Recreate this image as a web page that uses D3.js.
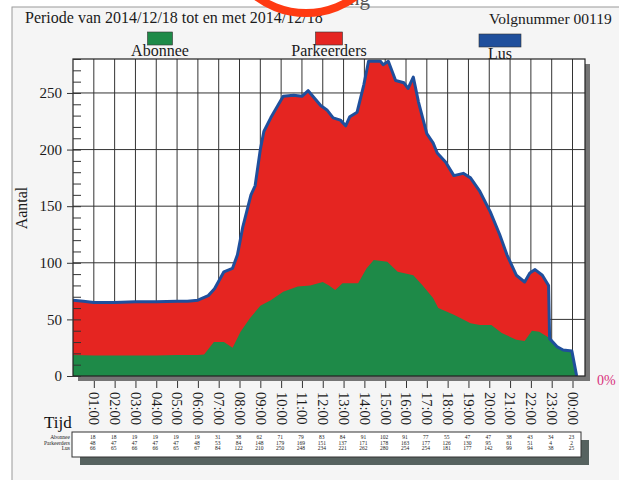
<!DOCTYPE html>
<html>
<head>
<meta charset="utf-8">
<script src="https://cdn.jsdelivr.net/npm/d3@7"></script>
<style>
  body { margin: 0; background: #fff; }
  text { font-family: "Liberation Serif", "Times New Roman", serif; fill: #1a1a1a; }
</style>
</head>
<body>
<div id="chart"></div>
<script>
// Hourly table under the chart
var tableHours = ["01:00", "02:00", "03:00", "04:00", "05:00", "06:00", "07:00", "08:00",
  "09:00", "10:00", "11:00", "12:00", "13:00", "14:00", "15:00", "16:00",
  "17:00", "18:00", "19:00", "20:00", "21:00", "22:00", "23:00", "00:00"];
var tableAbonnee = [18, 18, 19, 19, 19, 19, 31, 38, 62, 71, 79, 83, 84, 91, 102, 91, 77, 55, 47, 47, 38, 43, 34, 23];
var tableParkeerders = [48, 47, 47, 47, 47, 48, 53, 84, 148, 179, 169, 151, 137, 171, 178, 163, 177, 126, 130, 95, 61, 51, 4, 2];
var tableLus = [66, 65, 66, 66, 65, 67, 84, 122, 210, 250, 248, 234, 221, 262, 280, 254, 254, 181, 177, 142, 99, 94, 38, 25];
var rowNames = ["Abonnee", "Parkeerders", "Lus"];

// Curves (hour of day -> count)
var lusHours = [0, 0.5, 1, 1.5, 2, 3, 4, 5, 5.5, 6, 6.5, 6.8, 7.25, 7.66, 7.9, 8.15, 8.55, 8.75, 9, 9.17,
  9.5, 10.1, 10.6, 11, 11.3, 11.9, 12.2, 12.5, 12.85, 13.1, 13.3, 13.65, 13.97, 14.2, 14.77,
  14.9, 15.15, 15.5, 15.9, 16.1, 16.35, 16.6, 17, 17.3, 17.5, 17.9, 18.3, 18.75, 19.1, 19.55,
  20.05, 20.5, 20.85, 21.3, 21.7, 21.95, 22.2, 22.55, 22.85, 22.9, 23.25, 23.55, 23.97, 24.2];
var lusValues = [67, 66, 65, 65, 65, 65.5, 65.5, 66, 66, 67, 71, 77, 92, 95, 107, 131, 160, 168, 200, 216,
  228, 247, 248, 247, 252, 239, 235, 228, 226, 221, 229, 233, 257, 278, 278,
  275, 278, 261, 259, 254, 264, 242, 214, 206, 197, 189, 177, 179, 175, 163,
  145, 125, 107, 89, 83, 91, 94, 89, 80, 33, 26, 23, 22, 0];

var abonneeHours = [0, 1, 2, 3, 4, 5, 6, 6.3, 6.77, 7.25, 7.67, 8.05, 8.5, 9, 9.5,
  10.1, 10.8, 11.4, 12, 12.3, 12.6, 12.95, 13.7, 14.1, 14.45, 15.1, 15.6, 16.35, 16.8, 17.3,
  17.55, 18.3, 19.1, 19.55, 20.1, 20.6, 21.3, 21.7, 22.05, 22.4, 22.85, 23.25, 23.75, 23.97, 24.15];
var abonneeValues = [18.5, 18, 18, 18, 18, 18.5, 18.5, 19, 30, 30, 25, 39, 51, 62, 67,
  74.5, 79, 80, 83, 80, 76, 82, 82, 95, 102.5, 101, 92, 89, 80, 69,
  60, 54, 46.5, 45, 45, 38, 32, 31, 40, 39, 34, 25, 21.5, 21, 0];

var legendNames = ["Abonnee", "Parkeerders", "Lus"];
var yMajor = [0, 50, 100, 150, 200, 250];

var svgWidth = 619;
var svgHeight = 480;
var plot = { left: 73, right: 585, top: 59, bottom: 376 };
var colors = { Abonnee: "#1e8a48", Parkeerders: "#e52521", Lus: "#1f4f9c" };

var svg = d3.select("#chart")
  .append("svg")
  .attr("width", svgWidth)
  .attr("height", svgHeight);

// scanned page background
svg.append("rect")
  .attr("x", 12).attr("y", 7)
  .attr("width", svgWidth).attr("height", svgHeight)
  .attr("fill", "#f5f5f5")
  .attr("stroke", "#9a9a9a");

// half hidden title
svg.append("text")
  .attr("x", 370).attr("y", 5)
  .attr("text-anchor", "end")
  .style("font-size", "21px")
  .style("fill", "#555")
  .text("Bezetting");

svg.append("text")
  .attr("x", 25).attr("y", 23)
  .style("font-size", "16px")
  .text("Periode van 2014/12/18 tot en met 2014/12/18");

// red marker circle drawn over the header
svg.append("circle")
  .attr("cx", 306).attr("cy", -70).attr("r", 83)
  .attr("fill", "#fff")
  .attr("stroke", "#ff3a12")
  .attr("stroke-width", 8);

svg.append("text")
  .attr("x", 489).attr("y", 24)
  .style("font-size", "15.5px")
  .text("Volgnummer 00119");

// legend
var legendX = { Abonnee: 160, Parkeerders: 329, Lus: 500 };
var legendW = { Abonnee: 25, Parkeerders: 27, Lus: 42 };
legendNames.forEach(function(name, i) {
  svg.append("rect")
    .attr("x", legendX[name] - legendW[name] / 2)
    .attr("y", i == 2 ? 34 : 32)
    .attr("width", legendW[name])
    .attr("height", 13)
    .attr("fill", colors[name])
    .attr("stroke", "#333")
    .attr("stroke-width", 0.6);
  svg.append("text")
    .attr("x", legendX[name])
    .attr("y", i == 2 ? 59 : 56)
    .attr("text-anchor", "middle")
    .style("font-size", "16px")
    .text(name);
});

// scales
var x = d3.scaleLinear().domain([0, 24.6]).range([plot.left, plot.right]);
var y = d3.scaleLinear().domain([0, 280]).range([plot.bottom, plot.top]);

// plot shadow + white plot area
svg.append("rect")
  .attr("x", plot.left + 5).attr("y", plot.top + 5)
  .attr("width", plot.right - plot.left).attr("height", plot.bottom - plot.top)
  .attr("fill", "#757575");
svg.append("rect")
  .attr("x", plot.left).attr("y", plot.top)
  .attr("width", plot.right - plot.left).attr("height", plot.bottom - plot.top)
  .attr("fill", "#fff");

// grid
var grid = svg.append("g").attr("stroke", "#333").attr("stroke-width", 1);
d3.range(1, 25).forEach(function(h) {
  grid.append("line")
    .attr("x1", x(h)).attr("x2", x(h))
    .attr("y1", plot.top).attr("y2", plot.bottom);
});
yMajor.slice(1).forEach(function(v) {
  grid.append("line")
    .attr("x1", plot.left).attr("x2", plot.right)
    .attr("y1", y(v)).attr("y2", y(v));
});

svg.append("clipPath").attr("id", "clip")
  .append("rect")
  .attr("x", plot.left).attr("y", plot.top)
  .attr("width", plot.right - plot.left).attr("height", plot.bottom - plot.top);

var chartGroup = svg.append("g").attr("clip-path", "url(#clip)");

var lusData = lusHours.map(function(h, i) { return { h: h, v: lusValues[i] }; });
var abonneeData = abonneeHours.map(function(h, i) { return { h: h, v: abonneeValues[i] }; });

var area = d3.area()
  .x(d => x(d.h))
  .y0(y(0))
  .y1(d => y(d.v));

// parkeerders sit on top of abonnee, so the red area reaches the Lus line
chartGroup.append("path")
  .datum(lusData)
  .attr("d", area)
  .attr("fill", colors.Parkeerders);

chartGroup.append("path")
  .datum(abonneeData)
  .attr("d", area)
  .attr("fill", colors.Abonnee);

chartGroup.append("path")
  .datum(lusData)
  .attr("d", d3.line().x(d => x(d.h)).y(d => y(d.v)))
  .attr("fill", "none")
  .attr("stroke", colors.Lus)
  .attr("stroke-width", 3)
  .attr("stroke-linejoin", "round");

// frame
svg.append("rect")
  .attr("x", plot.left).attr("y", plot.top)
  .attr("width", plot.right - plot.left).attr("height", plot.bottom - plot.top)
  .attr("fill", "none")
  .attr("stroke", "#222")
  .attr("stroke-width", 1.2);

// y axis: minor ticks inside, major ticks + labels outside
var yMinor = svg.append("g")
  .attr("transform", `translate(${plot.left}, 0)`)
  .call(d3.axisLeft(y).tickValues(d3.range(0, 281, 10)).tickSize(-8).tickFormat(""));
yMinor.select(".domain").remove();
yMinor.selectAll("line").attr("stroke", "#333");

var yAxis = svg.append("g")
  .attr("transform", `translate(${plot.left}, 0)`)
  .call(d3.axisLeft(y).tickValues(yMajor).tickSize(6).tickPadding(5));
yAxis.select(".domain").remove();
yAxis.selectAll("line").attr("stroke", "#333");
yAxis.selectAll("text")
  .style("font-size", "15px")
  .style("font-family", "Liberation Serif, serif")
  .style("fill", "#1a1a1a");

svg.append("text")
  .attr("transform", "translate(27, 208) rotate(-90)")
  .attr("text-anchor", "middle")
  .style("font-size", "16px")
  .text("Aantal");

// x axis below the shadow
var xAxis = svg.append("g")
  .attr("transform", `translate(0, ${plot.bottom + 5})`)
  .call(d3.axisBottom(x).tickValues(d3.range(1, 25)).tickSize(7)
    .tickFormat(h => tableHours[h - 1]));
xAxis.select(".domain").remove();
xAxis.selectAll("line").attr("stroke", "#333");
xAxis.selectAll("text")
  .attr("transform", "rotate(90)")
  .attr("x", 11)
  .attr("y", 0)
  .attr("dy", "0.35em")
  .style("text-anchor", "start")
  .style("font-size", "14.5px")
  .style("font-family", "Liberation Serif, serif")
  .style("fill", "#1a1a1a");

svg.append("text")
  .attr("x", 597).attr("y", 385)
  .style("font-size", "14px")
  .style("fill", "#d8307c")
  .text("0%");

svg.append("text")
  .attr("x", 44).attr("y", 428)
  .style("font-size", "17px")
  .style("fill", "#111")
  .text("Tijd");

// table
var table = { left: 72, right: 581, top: 432, bottom: 457 };
svg.append("rect")
  .attr("x", table.left + 8).attr("y", table.top + 8)
  .attr("width", table.right - table.left).attr("height", table.bottom - table.top)
  .attr("fill", "#56625f");
svg.append("rect")
  .attr("x", table.left).attr("y", table.top)
  .attr("width", table.right - table.left).attr("height", table.bottom - table.top)
  .attr("fill", "#fff")
  .attr("stroke", "#333");

var rowY = [438, 443.5, 449];
var tableRows = [tableAbonnee, tableParkeerders, tableLus];
tableRows.forEach(function(row, r) {
  svg.append("text")
    .attr("x", table.left - 2).attr("y", rowY[r])
    .attr("text-anchor", "end")
    .attr("dominant-baseline", "middle")
    .style("font-size", "5.5px")
    .text(rowNames[r]);
  svg.append("g").selectAll("text")
    .data(row)
    .enter()
    .append("text")
    .attr("x", (d, i) => x(i + 1) - 1)
    .attr("y", rowY[r])
    .attr("text-anchor", "middle")
    .attr("dominant-baseline", "middle")
    .style("font-size", "5.5px")
    .text(d => d);
});
</script>
</body>
</html>
